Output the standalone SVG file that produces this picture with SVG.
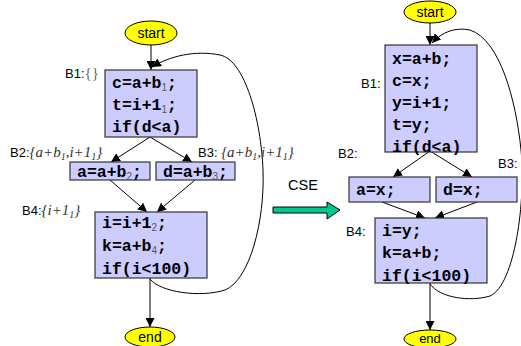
<svg xmlns="http://www.w3.org/2000/svg" width="521" height="346" viewBox="0 0 521 346">
<defs>
<marker id="ah" viewBox="0 0 10 10" refX="10" refY="5" markerWidth="9" markerHeight="9" markerUnits="userSpaceOnUse" orient="auto"><path d="M0,0 L10,5 L0,10 z" fill="#000"/></marker>
</defs>
<style>
.box{fill:#CCCCFF;stroke:#333;stroke-width:1.2}
.term{fill:#FFFF00;stroke:#000;stroke-width:1}
.code{font-family:"Liberation Mono",monospace;font-weight:bold;font-size:16.5px;fill:#000}
.sub{font-family:"Liberation Sans",sans-serif;font-weight:normal;font-size:10px;fill:#555}
.lbl{font-family:"Liberation Sans",sans-serif;font-size:13px;fill:#000}
.set{font-family:"Liberation Serif",serif;font-style:italic;font-size:15px;fill:#333}
.ssub{font-family:"Liberation Serif",serif;font-style:italic;font-size:10px}
.tt{font-family:"Liberation Sans",sans-serif;font-size:14px;fill:#000;text-anchor:middle}
.e{fill:none;stroke:#000;stroke-width:1;marker-end:url(#ah)}
.g{fill:none;stroke:#555;stroke-width:1.5;marker-end:url(#ah)}
</style>
<g id="connectors">
<path class="g" d="M151,45 L151,70"/>
<path class="e" d="M150,137 L111,162"/>
<path class="e" d="M150,137 L192,162"/>
<path class="e" d="M110,180 L147,212"/>
<path class="e" d="M195,180 L157,212"/>
<path class="g" d="M150,278 L150,327"/>
<path class="e" d="M150,279 C160,292 200,298 225,290 C250,280 265,220 263,170 C261,120 245,60 220,55 C195,50 170,56 152,67"/>
<path class="g" d="M430,23 L430,45"/>
<path class="e" d="M430,151 L393,177"/>
<path class="e" d="M430,151 L472,177"/>
<path class="e" d="M382,202 L425,218"/>
<path class="e" d="M477,202 L435,218"/>
<path class="g" d="M430,283 L430,330"/>
<path class="e" d="M430,284 C440,298 470,302 490,296 C515,285 526,200 521,150 C516,100 500,40 470,30 C455,27 442,32 432,43"/>
</g>
<g id="start1"><ellipse class="term" cx="151" cy="33" rx="26" ry="12"/><text class="tt" x="151" y="38">start</text></g>
<g id="b1l">
<rect class="box" x="105" y="70" width="92" height="67"/>
<text class="code" x="112" y="88">c=a+b<tspan class="sub" dy="3">1</tspan><tspan dy="-3">;</tspan></text>
<text class="code" x="112" y="110">t=i+1<tspan class="sub" dy="3">1</tspan><tspan dy="-3">;</tspan></text>
<text class="code" x="112" y="132">if(d&lt;a)</text>
<text x="65" y="78"><tspan class="lbl">B1:</tspan><tspan class="set" style="font-style:normal;fill:#666">{}</tspan></text>
</g>
<g id="b2l">
<rect class="box" x="70" y="162" width="80" height="18"/>
<text class="code" x="77" y="177">a=a+b<tspan class="sub" dy="3">2</tspan><tspan dy="-3">;</tspan></text>
<text x="10" y="157"><tspan class="lbl">B2:</tspan><tspan class="set">{a+b<tspan class="ssub" dy="3">1</tspan><tspan dy="-3">,i+1</tspan><tspan class="ssub" dy="3">1</tspan><tspan dy="-3">}</tspan></tspan></text>
</g>
<g id="b3l">
<rect class="box" x="156" y="162" width="79" height="18"/>
<text class="code" x="163" y="177">d=a+b<tspan class="sub" dy="3">3</tspan><tspan dy="-3">;</tspan></text>
<text x="198" y="157"><tspan class="lbl">B3: </tspan><tspan class="set">{a+b<tspan class="ssub" dy="3">1</tspan><tspan dy="-3">,i+1</tspan><tspan class="ssub" dy="3">1</tspan><tspan dy="-3">}</tspan></tspan></text>
</g>
<g id="b4l">
<rect class="box" x="95" y="212" width="112" height="66"/>
<text class="code" x="102" y="228">i=i+1<tspan class="sub" dy="3">2</tspan><tspan dy="-3">;</tspan></text>
<text class="code" x="102" y="251">k=a+b<tspan class="sub" dy="3">4</tspan><tspan dy="-3">;</tspan></text>
<text class="code" x="102" y="274">if(i&lt;100)</text>
<text x="22" y="215"><tspan class="lbl">B4:</tspan><tspan class="set">{i+1<tspan class="ssub" dy="3">1</tspan><tspan dy="-3">}</tspan></tspan></text>
</g>
<g id="end1"><ellipse class="term" cx="150" cy="337" rx="25" ry="10"/><text class="tt" x="150" y="342">end</text></g>
<g id="cse">
<text class="lbl" x="288" y="190" style="font-size:14.5px">CSE</text>
<path d="M273,207 L327,207 L327,202 L340,210 L327,219 L327,213 L273,213 Z" fill="#00C890" stroke="#000" stroke-width="1"/>
</g>
<g id="start2"><ellipse class="term" cx="430" cy="12" rx="26" ry="11"/><text class="tt" x="430" y="17">start</text></g>
<g id="b1r">
<rect class="box" x="385" y="45" width="92" height="107"/>
<text class="code" x="392" y="64">x=a+b;</text>
<text class="code" x="392" y="86">c=x;</text>
<text class="code" x="392" y="108">y=i+1;</text>
<text class="code" x="392" y="130">t=y;</text>
<text class="code" x="392" y="152">if(d&lt;a)</text>
<text class="lbl" x="361" y="88">B1:</text>
</g>
<g id="b2r">
<rect class="box" x="349" y="177" width="81" height="25"/>
<text class="code" x="356" y="195">a=x;</text>
<text class="lbl" x="338" y="158">B2:</text>
</g>
<g id="b3r">
<rect class="box" x="436" y="177" width="81" height="25"/>
<text class="code" x="443" y="195">d=x;</text>
<text class="lbl" x="498" y="168">B3:</text>
</g>
<g id="b4r">
<rect class="box" x="375" y="218" width="112" height="65"/>
<text class="code" x="382" y="236">i=y;</text>
<text class="code" x="382" y="258">k=a+b;</text>
<text class="code" x="382" y="281">if(i&lt;100)</text>
<text class="lbl" x="346" y="236">B4:</text>
</g>
<g id="end2"><ellipse class="term" cx="430" cy="339" rx="26" ry="9"/><text class="tt" x="430" y="343" style="font-size:13px">end</text></g>
</svg>
